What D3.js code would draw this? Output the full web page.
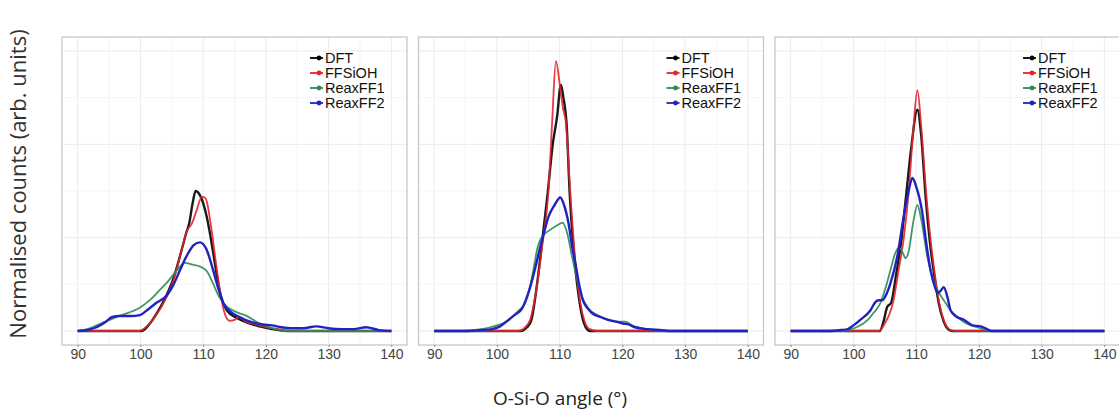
<!DOCTYPE html>
<html>
<head>
<meta charset="utf-8">
<script src="https://cdn.jsdelivr.net/npm/d3@7"></script>
<style>
  body { margin: 0; background: #fff; }
  svg text { font-family: "Liberation Sans", Arial, sans-serif; }
</style>
</head>
<body>
<div id="chart"></div>
<script>
// x ticks shared by all three facets
const xTicks = [90, 100, 110, 120, 130, 140]
const seriesNames = ['DFT', 'FFSiOH', 'ReaxFF1', 'ReaxFF2']

// panel 1 (angle in degrees, normalised count)
const dft1 = [[90,0],[100.2,0],[101.5,0.08],[102.6,0.19],[104,0.36],[105.2,0.55],[106.7,0.9],[107.3,1.05],[107.8,1.16],[108.3,1.36],[108.8,1.5],[109.6,1.44],[110.3,1.3],[111,1.08],[111.6,0.84],[112.6,0.44],[113.8,0.22],[115.4,0.14],[117,0.09],[119,0.05],[121,0.02],[123.5,0],[140,0]]
const ffsioh1 = [[90,0],[99.8,0],[101,0.05],[102.5,0.17],[104,0.34],[105.3,0.55],[106.5,0.85],[107.4,1.07],[108.2,1.15],[109,1.3],[109.8,1.44],[110.4,1.42],[111.2,1.15],[112,0.75],[112.6,0.47],[113.3,0.22],[114.2,0.11],[115,0.12],[115.8,0.15],[116.8,0.1],[118,0.08],[119.5,0.05],[121,0.03],[123,0.01],[124,0],[140,0]]
const reax1a = [[90,0],[92,0.03],[94,0.09],[95.1,0.12],[97,0.17],[99.9,0.25],[101.5,0.33],[103.1,0.44],[104.5,0.54],[105.8,0.65],[107.1,0.73],[108.3,0.71],[109.5,0.69],[110.6,0.64],[111.5,0.52],[112.6,0.36],[113.8,0.26],[115.4,0.2],[117,0.16],[118.5,0.1],[120,0.05],[121.5,0.02],[123,0],[140,0]]
const reax2a = [[90,0],[91.5,0.01],[93,0.04],[94.5,0.1],[95.5,0.15],[96.7,0.16],[98.5,0.16],[99.9,0.17],[101,0.22],[102.5,0.3],[104.2,0.38],[105.3,0.5],[106.3,0.65],[107.5,0.82],[108.5,0.92],[109.5,0.95],[110.5,0.88],[111.6,0.65],[112.4,0.46],[113.2,0.3],[114.5,0.2],[115.8,0.15],[117.5,0.1],[119.5,0.07],[121,0.06],[122.5,0.04],[124,0.03],[126,0.03],[128,0.05],[130,0.03],[132,0.02],[134,0.02],[136,0.04],[138,0.01],[140,0]]

// panel 2
const dft2 = [[90,0],[103.8,0],[104.8,0.04],[105.5,0.12],[106.3,0.45],[107.2,0.95],[108.1,1.48],[108.9,2.0],[109.6,2.3],[110.2,2.64],[110.6,2.5],[111.1,2.23],[111.6,1.48],[112.4,0.75],[113.2,0.3],[113.9,0.08],[114.8,0],[140,0]]
const ffsioh2 = [[90,0],[103.4,0],[104.5,0.04],[105.3,0.12],[106.3,0.45],[107.3,0.95],[108.2,1.48],[108.8,2.23],[109.4,2.89],[110.1,2.6],[110.5,2.4],[111,2.23],[111.7,1.48],[112.5,0.75],[113.3,0.3],[114,0.1],[114.8,0.02],[116,0],[140,0]]
const reax1b = [[90,0],[94,0],[96,0.01],[97.6,0.02],[100,0.06],[101.5,0.1],[102.4,0.15],[103.5,0.22],[104.5,0.3],[105.2,0.45],[105.8,0.65],[106.5,0.9],[107.2,1.01],[108.2,1.07],[109.3,1.12],[110.5,1.16],[111.2,1.05],[112,0.79],[112.8,0.55],[113.6,0.36],[114.5,0.25],[116,0.17],[117.5,0.13],[119,0.1],[120.5,0.1],[121.5,0.06],[123,0.03],[125,0.01],[127,0],[140,0]]
const reax2b = [[90,0],[95,0],[97.5,0.01],[99.2,0.02],[100.5,0.05],[101.5,0.1],[102.8,0.17],[104,0.24],[105.3,0.47],[106.2,0.7],[106.9,0.9],[107.5,1.05],[108.2,1.22],[109.2,1.35],[110.1,1.43],[110.7,1.35],[111.4,1.16],[112,0.9],[112.5,0.73],[113.1,0.5],[113.7,0.33],[114.5,0.24],[115.2,0.19],[116.5,0.15],[117.7,0.12],[119,0.1],[120.1,0.08],[121,0.07],[122,0.04],[124,0.02],[126,0.01],[128,0],[140,0]]

// panel 3
const dft3 = [[90,0],[104.2,0],[104.8,0.1],[105.4,0.26],[106,0.3],[106.8,0.6],[107.6,0.95],[108.4,1.45],[109.2,1.95],[110.2,2.37],[110.8,2.1],[111.5,1.45],[112.2,0.95],[113,0.55],[113.6,0.3],[114.4,0.1],[115.3,0.01],[116,0],[140,0]]
const ffsioh3 = [[90,0],[104,0],[105,0.08],[106.4,0.33],[107.2,0.65],[108,0.98],[108.8,1.48],[109.6,2.2],[110.2,2.58],[110.8,2.2],[111.6,1.48],[112.3,0.98],[113,0.6],[113.6,0.33],[114.5,0.1],[115.5,0.01],[116.5,0],[140,0]]
const reax1c = [[90,0],[96,0],[99.1,0.01],[100.5,0.04],[102.3,0.12],[103.3,0.2],[104.3,0.3],[105.2,0.48],[105.9,0.65],[106.6,0.82],[107.2,0.89],[107.8,0.85],[108.3,0.78],[108.8,0.85],[109.5,1.15],[110.2,1.35],[110.8,1.2],[111.8,0.79],[112.5,0.6],[113.4,0.44],[114.5,0.32],[115.5,0.22],[116.6,0.15],[118,0.08],[119.8,0.04],[121,0.01],[122,0],[140,0]]
const reax2c = [[90,0],[96,0],[98,0.01],[99.1,0.02],[100,0.06],[101.1,0.12],[102.7,0.22],[103.5,0.31],[104,0.33],[104.6,0.33],[105.3,0.4],[105.9,0.51],[107,0.8],[108,1.22],[108.8,1.5],[109.4,1.64],[110,1.55],[111,1.26],[111.6,0.95],[112.3,0.65],[113,0.47],[113.4,0.41],[113.9,0.43],[114.4,0.47],[115,0.36],[115.5,0.22],[116.5,0.15],[117.6,0.12],[119,0.06],[120.3,0.05],[121,0.03],[122,0],[140,0]]

const panels = [
  [dft1, ffsioh1, reax1a, reax2a],
  [dft2, ffsioh2, reax1b, reax2b],
  [dft3, ffsioh3, reax1c, reax2c],
]

const colors = ['#000000', '#e3242b', '#2e8b57', '#2222c4']
const widths = [2.4, 1.8, 1.8, 2.4]

const W = 1119
const H = 414
const panelLeft = [62, 418.5, 775]
const panelW = 345
const panelTop = 37
const panelBottom = 345

const svg = d3.select('#chart').append('svg')
  .attr('width', W)
  .attr('height', H)

const y = d3.scaleLinear().domain([-0.15, 3.15]).range([panelBottom, panelTop])

panels.forEach((series, p) => {
  const x = d3.scaleLinear().domain([87.5, 142.5]).range([panelLeft[p], panelLeft[p] + panelW])
  const g = svg.append('g')

  g.append('rect')
    .attr('x', x(87.5)).attr('y', panelTop)
    .attr('width', panelW).attr('height', panelBottom - panelTop)
    .attr('fill', '#fff')

  // grid, majors and minors
  g.selectAll('.vg').data(d3.range(90, 141, 5)).enter().append('line')
    .attr('x1', d => x(d)).attr('x2', d => x(d))
    .attr('y1', panelTop).attr('y2', panelBottom)
    .attr('stroke', d => d % 10 === 0 ? '#ebebeb' : '#f4f4f4')
    .attr('stroke-width', 1)
  g.selectAll('.hg').data(d3.range(0, 3.01, 0.5)).enter().append('line')
    .attr('x1', x(87.5)).attr('x2', x(142.5))
    .attr('y1', d => y(d)).attr('y2', d => y(d))
    .attr('stroke', d => d % 1 === 0 ? '#ebebeb' : '#f4f4f4')
    .attr('stroke-width', 1)

  const line = d3.line()
    .x(d => x(d[0]))
    .y(d => y(d[1]))
    .curve(d3.curveMonotoneX)

  series.forEach((s, i) => {
    g.append('path')
      .datum(s)
      .attr('d', line)
      .attr('fill', 'none')
      .attr('stroke', colors[i])
      .attr('stroke-width', widths[i])
      .attr('stroke-linejoin', 'round')
      .attr('opacity', i === 3 ? 1 : 0.9)
  })

  g.append('rect')
    .attr('x', x(87.5)).attr('y', panelTop)
    .attr('width', panelW).attr('height', panelBottom - panelTop)
    .attr('fill', 'none')
    .attr('stroke', '#c4c4c4')
    .attr('stroke-width', 1.2)

  const axis = d3.axisBottom(x).tickValues(xTicks).tickSize(2).tickPadding(2)
  const ax = g.append('g')
    .attr('transform', `translate(0,${panelBottom})`)
    .call(axis)
  ax.select('.domain').remove()
  ax.selectAll('line').attr('stroke', '#8a8a8a')
  ax.selectAll('text')
    .attr('fill', '#444')
    .style('font-size', '14px')
    .style('font-family', '"Liberation Sans Narrow", "Liberation Sans", Arial, sans-serif')

  // legend in the top right corner
  const lg = g.append('g')
    .attr('transform', `translate(${x(87.5) + 248},58)`)
  seriesNames.forEach((name, i) => {
    const row = lg.append('g').attr('transform', `translate(0,${i * 15})`)
    row.append('line')
      .attr('x1', 0).attr('x2', 13)
      .attr('stroke', colors[i]).attr('stroke-width', 1.8)
    row.append('circle')
      .attr('cx', 9).attr('r', 2.4)
      .attr('fill', colors[i])
    row.append('text')
      .attr('x', 15).attr('dy', '0.36em')
      .style('font-size', '14.5px')
      .attr('fill', '#111')
      .text(name)
  })
})

svg.append('text')
  .attr('transform', `translate(26,184) rotate(-90)`)
  .attr('text-anchor', 'middle')
  .style('font-family', '"Open Sans", "Noto Sans", sans-serif')
  .style('font-size', '22px')
  .attr('fill', '#333')
  .text('Normalised counts (arb. units)')

svg.append('text')
  .attr('x', 560)
  .attr('y', 405)
  .attr('text-anchor', 'middle')
  .style('font-family', '"Open Sans", "Noto Sans", sans-serif')
  .style('font-size', '19px')
  .attr('fill', '#222')
  .text('O-Si-O angle (°)')
</script>
</body>
</html>
